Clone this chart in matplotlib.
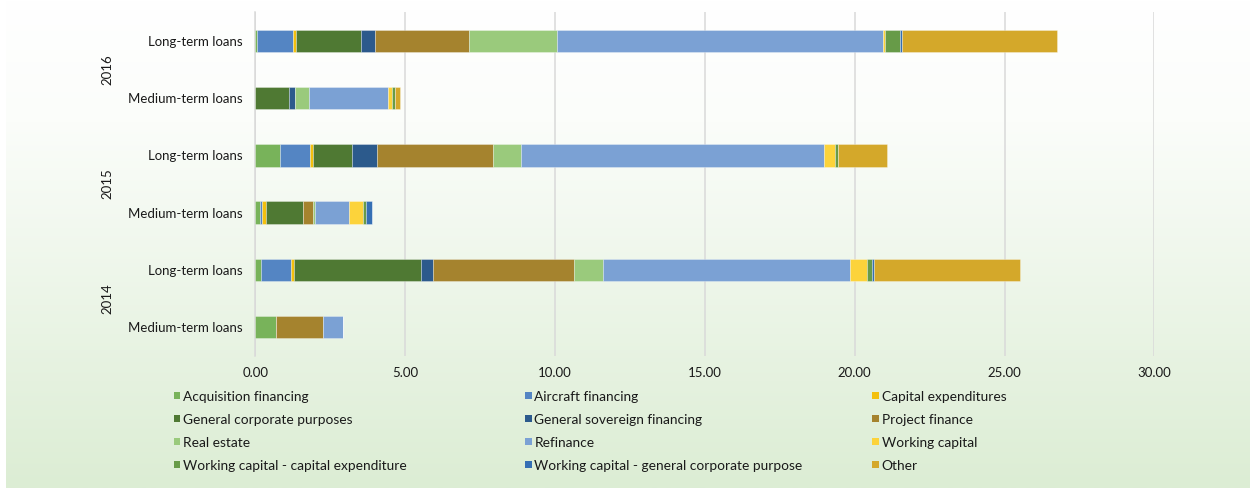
import numpy as np
import matplotlib
matplotlib.use("Agg")
import matplotlib.pyplot as plt
from matplotlib.patches import Rectangle
from matplotlib.colors import LinearSegmentedColormap

plt.rcParams["font.family"] = ["Lato", "DejaVu Sans"]

# Rows, top to bottom
years = ["2016", "2016", "2015", "2015", "2014", "2014"]
loan_types = ["Long-term loans", "Medium-term loans",
              "Long-term loans", "Medium-term loans",
              "Long-term loans", "Medium-term loans"]

series_names = [
    "Acquisition financing", "Aircraft financing", "Capital expenditures",
    "General corporate purposes", "General sovereign financing", "Project finance",
    "Real estate", "Refinance", "Working capital",
    "Working capital - capital expenditure",
    "Working capital - general corporate purpose", "Other",
]
series_colors = [
    "#78B35A", "#5485C3", "#F3C00E",
    "#4F7933", "#2C5A8C", "#A5832E",
    "#9ACA7C", "#7BA1D4", "#FCD33B",
    "#679B48", "#356FB4", "#D4A82A",
]

# Loan volumes per purpose, one value per row (same order as the rows above)
acquisition_financing = [0.05, 0.00, 0.82, 0.16, 0.19, 0.69]
aircraft_financing    = [1.22, 0.00, 1.01, 0.06, 1.00, 0.00]
capital_expenditures  = [0.09, 0.00, 0.08, 0.14, 0.09, 0.00]
general_corporate     = [2.16, 1.14, 1.31, 1.24, 4.25, 0.00]
general_sovereign     = [0.48, 0.19, 0.84, 0.00, 0.41, 0.00]
project_finance       = [3.12, 0.00, 3.88, 0.31, 4.69, 1.58]
real_estate           = [2.96, 0.45, 0.92, 0.09, 0.97, 0.00]
refinance             = [10.86, 2.65, 10.11, 1.14, 8.24, 0.66]
working_capital       = [0.06, 0.13, 0.38, 0.46, 0.57, 0.00]
wc_capex              = [0.51, 0.09, 0.09, 0.09, 0.16, 0.00]
wc_general_corporate  = [0.07, 0.00, 0.00, 0.19, 0.06, 0.00]
other                 = [5.17, 0.19, 1.65, 0.00, 4.89, 0.00]

series_values = [
    acquisition_financing, aircraft_financing, capital_expenditures,
    general_corporate, general_sovereign, project_finance,
    real_estate, refinance, working_capital,
    wc_capex, wc_general_corporate, other,
]

x_ticks = [0, 5, 10, 15, 20, 25, 30]

W, H = 1250, 488
fig = plt.figure(figsize=(W / 100, H / 100), dpi=100)
fig.patch.set_facecolor("white")

# Soft white-to-green background panel
bg = fig.add_axes([6 / W, 0, 1 - 6 / W, 1], zorder=-10)
grad_cmap = LinearSegmentedColormap.from_list(
    "bg", [(0.0, "#FFFFFF"), (0.25, "#FBFDFA"), (1.0, "#DCEDD4")])
grad = np.linspace(0, 1, 256).reshape(-1, 1)
bg.imshow(grad, aspect="auto", cmap=grad_cmap, extent=[0, 1, 1, 0])
bg.set_axis_off()

ax = fig.add_axes([255.3 / W, 1 - 355.6 / H, (1154.4 - 255.3) / W, (355.6 - 12.4) / H])
ax.set_facecolor("none")

y = np.arange(len(loan_types))
left = np.zeros(len(loan_types))
for name, vals, col in zip(series_names, series_values, series_colors):
    vals = np.asarray(vals, dtype=float)
    ax.barh(y, vals, left=left, height=0.39, color=col,
            edgecolor=(1, 1, 1, 0.35), linewidth=0.6, label=name, zorder=3)
    left += vals

ax.set_xlim(0, 30)
ax.set_ylim(len(loan_types) - 0.5, -0.5)
ax.set_xticks(x_ticks)
ax.set_xticklabels([f"{t:.2f}" for t in x_ticks])
ax.set_yticks(y)
ax.set_yticklabels(loan_types)
ax.tick_params(axis="both", length=0, labelsize=9.5, colors="#1A1A1A")
ax.tick_params(axis="x", pad=8)
ax.tick_params(axis="y", pad=9)
ax.grid(axis="x", color="#D9D9D9", linewidth=1.1, zorder=0)
for s in ["top", "right", "bottom"]:
    ax.spines[s].set_visible(False)
ax.spines["left"].set_color("#D9D9D9")
ax.spines["left"].set_linewidth(1.1)

# Year group labels
for yr in dict.fromkeys(years):
    idx = [i for i, v in enumerate(years) if v == yr]
    ax.text(-148 / 29.97, np.mean(idx), yr, rotation=90, ha="center", va="center",
            fontsize=9.5, color="#1A1A1A")

# Legend, three columns
col_x = [173.5, 525.0, 872.0]
row_y = [397, 420, 443, 466]
for k, (name, col) in enumerate(zip(series_names, series_colors)):
    r, c = divmod(k, 3)
    x0 = col_x[c]
    yc = row_y[r]
    fig.add_artist(Rectangle((x0 / W, 1 - (yc + 1.5) / H), 6.5 / W, 6.5 / H,
                             transform=fig.transFigure, facecolor=col, edgecolor="none"))
    fig.text((x0 + 9.5) / W, 1 - yc / H, name, ha="left", va="center",
             fontsize=9.9, color="#1A1A1A")

fig.savefig("out.png", dpi=100)
